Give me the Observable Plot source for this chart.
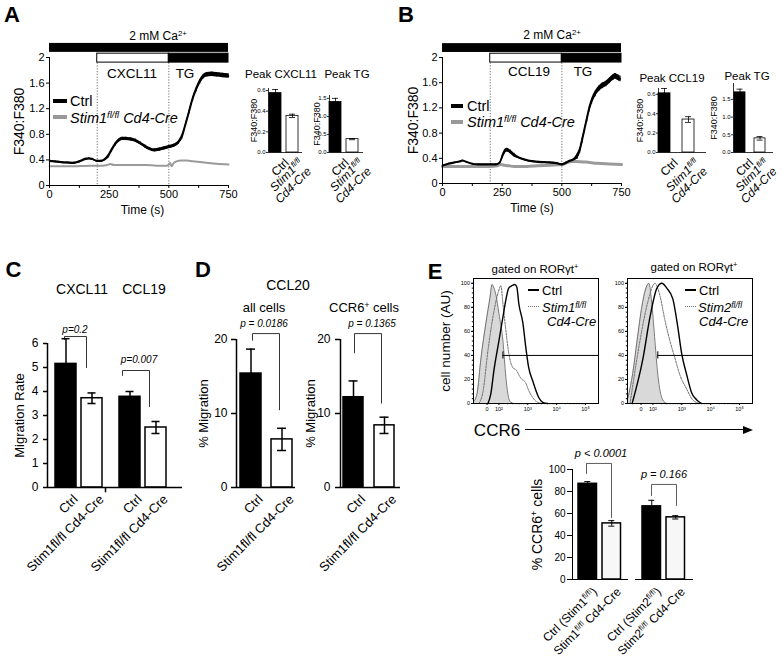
<!DOCTYPE html>
<html><head><meta charset="utf-8">
<script src="https://cdn.jsdelivr.net/npm/d3@7"></script>
<script src="https://cdn.jsdelivr.net/npm/@observablehq/plot@0.6"></script>
<style>
html,body{margin:0;padding:0;background:#fff;}
#fig{position:relative;width:782px;height:661px;overflow:hidden;background:#fff;font-family:"Liberation Sans",Arial,Helvetica,sans-serif;color:#000;}
#fig .t{position:absolute;white-space:nowrap;line-height:1;}
#fig sup{font-size:65%;vertical-align:0;position:relative;top:-0.5em;line-height:0;}
</style></head><body><div id="fig"></div>
<script>
// ================= DATA =================
// Panel A: Fura-2 ratio, CXCL11 then thapsigargin
const timeA = [0,25,50,75,100,125,150,165,180,200,215,230,245,260,275,290,305,320,340,360,380,400,420,440,460,480,500,520,540,555,570,585,600,615,630,645,660,680,700,725,750];
const ctrlA = [0.38,0.37,0.36,0.355,0.35,0.37,0.41,0.42,0.41,0.38,0.38,0.40,0.45,0.55,0.64,0.70,0.73,0.73,0.72,0.70,0.66,0.61,0.57,0.55,0.56,0.58,0.60,0.62,0.67,0.76,0.95,1.15,1.35,1.50,1.62,1.70,1.73,1.74,1.73,1.72,1.71];
const ctrlAErr = [0.015,0.015,0.015,0.015,0.015,0.015,0.015,0.015,0.015,0.015,0.015,0.015,0.025,0.025,0.025,0.025,0.025,0.025,0.025,0.025,0.025,0.025,0.025,0.025,0.025,0.025,0.025,0.025,0.025,0.035,0.035,0.035,0.035,0.035,0.035,0.035,0.035,0.035,0.035,0.035,0.035];
const stimTimeA = [0,50,100,150,200,225,240,255,270,300,350,400,450,490,500,505,512,520,535,550,575,600,650,700,750];
const stimA = [0.30,0.30,0.30,0.305,0.31,0.31,0.32,0.335,0.32,0.32,0.32,0.32,0.31,0.31,0.33,0.35,0.30,0.35,0.38,0.39,0.39,0.38,0.36,0.34,0.33];
// Panel B: CCL19 then thapsigargin
const timeB = [0,25,50,75,85,100,125,150,200,225,240,250,260,270,285,300,325,350,375,400,450,480,500,515,530,550,565,575,585,595,605,615,625,640,655,670,685,700,715,725,735,745];
const ctrlB = [0.28,0.31,0.33,0.35,0.36,0.34,0.31,0.30,0.30,0.30,0.33,0.42,0.50,0.53,0.50,0.45,0.40,0.37,0.35,0.34,0.33,0.32,0.30,0.32,0.35,0.38,0.43,0.52,0.68,0.85,1.02,1.18,1.30,1.42,1.50,1.55,1.58,1.63,1.68,1.70,1.68,1.66];
const ctrlBErr = [0.012,0.012,0.012,0.012,0.012,0.012,0.012,0.012,0.012,0.012,0.012,0.03,0.03,0.03,0.03,0.03,0.015,0.015,0.015,0.015,0.015,0.015,0.015,0.015,0.015,0.015,0.045,0.045,0.045,0.045,0.045,0.045,0.045,0.045,0.045,0.045,0.045,0.045,0.045,0.045,0.045,0.045];
const stimTimeB = [0,50,100,150,200,230,245,260,280,300,350,400,450,500,520,540,560,600,650,700,750];
const stimB = [0.27,0.27,0.27,0.27,0.27,0.28,0.30,0.29,0.28,0.27,0.27,0.28,0.29,0.30,0.33,0.35,0.35,0.34,0.32,0.31,0.30];
// Stimulus bars
const caBar = [{label: "2 mM Ca2+", start: 0, end: 750}];
const treatA = [{label: "CXCL11", start: 200, end: 500}, {label: "TG", start: 500, end: 750}];
const treatB = [{label: "CCL19", start: 200, end: 500}, {label: "TG", start: 500, end: 750}];
// Peak responses
const peakGenotypes = ["Ctrl", "Stim1^{fl/fl}\nCd4-Cre"];
const peakCXCL11 = [0.575, 0.355], peakCXCL11Err = [0.035, 0.016];
const peakTGA = [1.40, 0.37], peakTGAErr = [0.10, 0.015];
const peakCCL19 = [0.61, 0.34], peakCCL19Err = [0.05, 0.03];
const peakTGB = [1.70, 0.40], peakTGBErr = [0.09, 0.05];
// Panel C: migration rate
const migChemokines = ["CXCL11", "CCL19"];
const migLabels = ["Ctrl", "Stim1fl/fl Cd4-Cre", "Ctrl", "Stim1fl/fl Cd4-Cre"];
const migRate = [5.15, 3.72, 3.78, 2.50];
const migRateErr = [1.05, 0.22, 0.22, 0.25];
const migP = ["p=0.2", "p=0.007"];
// Panel D: CCL20 % migration
const ccl20Labels = ["Ctrl", "Stim1fl/fl Cd4-Cre"];
const ccl20All = [15.4, 6.5], ccl20AllErr = [3.3, 1.5];
const ccl20CCR6 = [12.2, 8.4], ccl20CCR6Err = [2.2, 1.1];
const ccl20P = ["p = 0.0186", "p = 0.1365"];
// Panel E: CCR6 histograms (x in log10 decades of fluorescence)
const histTicks = [1.59, 2, 3, 4, 5];
const histTickLabels = ["0", "10²", "10³", "10⁴", "10⁵"];
const h1IsoX = [1.14,1.24,1.38,1.55,1.69,1.76,1.83,1.90,2.0,2.14,2.24,2.31,2.41,2.52];
const h1IsoY = [2,8,38,67,88,99,96,90,75,52,22,8,1,0];
const h1KoX = [1.31,1.45,1.62,1.83,1.97,2.07,2.14,2.24,2.34,2.48,2.59,2.76,2.93,3.03,3.17,3.34,3.52];
const h1KoY = [0,10,44,77,92,98,83,61,42,30,28,21,17,11,5,1,0];
const h1CtrlX = [1.62,1.72,1.83,2.0,2.14,2.24,2.34,2.45,2.55,2.62,2.69,2.83,2.93,3.03,3.17,3.28,3.38,3.52,3.69];
const h1CtrlY = [0,8,28,52,72,86,96,98,99,97,83,67,47,30,19,11,5,1,0];
const h2IsoX = [1.14,1.30,1.45,1.62,1.79,1.86,1.97,2.07,2.17,2.34,2.48];
const h2IsoY = [5,25,52,81,98,100,81,52,24,3,0];
const h2KoX = [1.21,1.55,1.83,2.07,2.24,2.41,2.59,2.76,2.93,3.17,3.38,3.62];
const h2KoY = [0,52,85,100,90,70,52,38,24,12,3,0];
const h2CtrlX = [1.28,1.66,1.90,2.14,2.31,2.48,2.69,2.86,3.0,3.17,3.34,3.52,3.69];
const h2CtrlY = [0,38,72,96,100,96,87,64,41,24,9,3,0];
const gate1 = {from: 2.14, y: 40}, gate2 = {from: 2.17, y: 40};
// Panel E: % CCR6+ cells
const ccr6Labels = ["Ctrl (Stim1^{fl/fl})", "Stim1^{fl/fl} Cd4-Cre", "Ctrl (Stim2^{fl/fl})", "Stim2^{fl/fl} Cd4-Cre"];
const ccr6Pct = [87, 51, 66.5, 56.5];
const ccr6Err = [2, 2.5, 5.5, 1.5];
const ccr6P = ["p < 0.0001", "p = 0.166"];

// ================= HELPERS =================
const FONT = '"Liberation Sans", Arial, Helvetica, sans-serif';
const fig = document.getElementById("fig");
const SVGNS = "http://www.w3.org/2000/svg";
const baseStyle = {fontFamily: FONT, background: "transparent", overflow: "visible", color: "#000"};

function txt(html, x, y, o = {}) {
  const d = document.createElement("div");
  d.className = "t";
  d.innerHTML = html;
  const ax = o.anchor === "start" ? "0%" : o.anchor === "end" ? "-100%" : "-50%";
  d.style.left = x + "px"; d.style.top = y + "px";
  d.style.fontSize = (o.size || 12) + "px";
  if (o.bold) d.style.fontWeight = "bold";
  if (o.italic) d.style.fontStyle = "italic";
  d.style.transform = `translate(${ax},-50%)`;
  fig.appendChild(d);
}
function hline(x1, x2, y, w, color, style = "solid") {
  const d = document.createElement("div");
  d.style.cssText = `position:absolute;left:${x1}px;top:${y - w / 2}px;width:${x2 - x1}px;height:0;border-top:${w}px ${style} ${color};`;
  fig.appendChild(d);
}
function rich(root) {
  root.querySelectorAll("text, tspan").forEach(el => {
    if (el.querySelector("tspan")) return;
    const s = el.textContent;
    if (!s.includes("^{")) return;
    el.textContent = "";
    const re = /\^\{([^}]*)\}/g; let last = 0, m;
    while ((m = re.exec(s))) {
      if (m.index > last) el.appendChild(document.createTextNode(s.slice(last, m.index)));
      const t = document.createElementNS(SVGNS, "tspan");
      t.setAttribute("baseline-shift", "super");
      t.setAttribute("font-size", "65%");
      t.textContent = m[1];
      el.appendChild(t);
      last = re.lastIndex;
    }
    if (last < s.length) el.appendChild(document.createTextNode(s.slice(last)));
  });
}
function place(svg, left, top) {
  svg.style.position = "absolute";
  svg.style.left = left + "px";
  svg.style.top = top + "px";
  fig.appendChild(svg);
  rich(svg);
}
// rotated, centred axis title at the left of the frame
const yTitle = (label, dx, fontSize) => Plot.text([label], {frameAnchor: "left", textAnchor: "middle", lineAnchor: "middle", rotate: -90, dx, fontSize});

// ---------- Calcium traces ----------
function trace(c) {
  const ctrl = c.ctrlT.map((t, i) => ({t, v: c.ctrlV[i], e: c.ctrlE[i]}));
  const ko = c.koT.map((t, i) => ({t, v: c.koV[i]}));
  return Plot.plot({
    width: c.width, height: c.height,
    marginTop: c.mt, marginBottom: c.mb, marginLeft: c.ml, marginRight: c.mr,
    style: baseStyle,
    x: {domain: [0, 750]}, y: {domain: [0, 2]}, color: {type: "identity"},
    marks: [
      Plot.ruleX(c.treat, {x: "start", stroke: "#333", strokeWidth: 0.7, strokeDasharray: "1.2,1.6"}),
      Plot.line(ko, {x: "t", y: "v", stroke: "#9a9a9a", strokeWidth: c.koWidth, curve: "monotone-x"}),
      Plot.areaY(ctrl, {x: "t", y1: d => d.v - d.e, y2: d => d.v + d.e, fill: "#000", curve: "monotone-x"}),
      Plot.line(ctrl, {x: "t", y: "v", stroke: "#000", strokeWidth: 1.6, curve: "monotone-x"}),
      Plot.ruleX(ctrl, {x: "t", y1: d => d.v - d.e, y2: d => d.v + d.e, stroke: "#000", strokeWidth: 0.8}),
      Plot.rect(caBar, {x1: "start", x2: "end", y1: 2.08, y2: 2.22, fill: "#000"}),
      Plot.rect(c.treat, {x1: "start", x2: "end", y1: 1.92, y2: 2.06, fill: (d, i) => i === 0 ? "#fff" : "#000", stroke: "#000", strokeWidth: 1}),
      Plot.ruleX([0], {stroke: "#000"}),
      Plot.ruleY([0], {stroke: "#000"}),
      Plot.axisX({ticks: d3.range(0, 751, 125), tickFormat: d => d % 250 === 0 ? String(d) : "", tickSize: 3, tickPadding: 2, fontSize: 11, label: null}),
      Plot.axisY({ticks: [0, 0.4, 0.8, 1.2, 1.6, 2], tickFormat: d => String(+d.toFixed(1)), tickSize: 3, tickPadding: 2, fontSize: 11, label: null}),
      yTitle("F340:F380", c.ylabDx, 14),
      Plot.text(["Time (s)"], {frameAnchor: "bottom", textAnchor: "middle", lineAnchor: "middle", dx: c.xlabDx, dy: 25, fontSize: 12})
    ]
  });
}

// ---------- Bar charts (x in pixel-like units) ----------
function barChart(c) {
  const data = c.vals.map((v, k) => ({k, v, e: c.errs[k], label: c.labels[k], g: Math.floor(k / 2), m: k % 2}));
  const x1 = d => c.g0 + d.g * (c.gStep || 0) + d.m * c.mStep;
  const cx = d => x1(d) + c.bw / 2;
  const labOpts = {x: cx, text: "label", frameAnchor: "bottom", rotate: -45, textAnchor: "end", lineAnchor: "top", dy: c.labDy, fontSize: c.labSize};
  const marks = [
    Plot.rect(data, {x1, x2: d => x1(d) + c.bw, y1: 0, y2: "v", fill: d => d.m === 0 ? "#000" : (c.white || "#fff"), stroke: "#000", strokeWidth: c.sw}),
    Plot.ruleX(data, {x: cx, y1: d => d.v - d.e, y2: d => d.v + d.e, stroke: "#000", strokeWidth: c.ew}),
    Plot.ruleY(data, {y: d => d.v + d.e, x1: d => cx(d) - c.cap, x2: d => cx(d) + c.cap, stroke: "#000", strokeWidth: c.ew}),
    Plot.ruleY(data, {filter: d => d.m === 1, y: d => d.v - d.e, x1: d => cx(d) - c.cap, x2: d => cx(d) + c.cap, stroke: "#000", strokeWidth: c.ew}),
    Plot.ruleX([0], {stroke: "#000", strokeWidth: c.aw}),
    Plot.ruleY(c.baselines, {y: 0, x1: d => d[0], x2: d => d[1], stroke: "#000", strokeWidth: c.aw}),
    Plot.axisY({ticks: c.ticks, tickFormat: c.fmt, tickSize: c.tickSize, tickPadding: c.tickPad, fontSize: c.tickFont, strokeWidth: c.aw, label: null}),
    yTitle(c.ylabel, c.ylabDx, c.ylabSize),
    Plot.text(data, {...labOpts, filter: d => d.m === 0, dx: c.labDx}),
    Plot.text(data, {...labOpts, filter: d => d.m === 1, dx: c.labDx2 ?? c.labDx, fontStyle: c.koStyle || "normal"})
  ];
  for (const b of c.brackets || []) marks.push(Plot.line([[b.xl, b.yl], [b.xl, b.top], [b.xr, b.top], [b.xr, b.yr]], {stroke: c.bracketColor || "#000", strokeWidth: 0.8}));
  for (const s of c.seps || []) marks.push(Plot.ruleX([s], {y1: 0, y2: -c.sepLen, stroke: "#000", strokeWidth: c.aw}));
  return Plot.plot({
    width: c.width, height: c.height, marginTop: c.mt, marginBottom: c.mb, marginLeft: c.ml, marginRight: c.mr,
    style: baseStyle, color: {type: "identity"},
    x: {domain: [0, c.xmax], axis: null}, y: {domain: [0, c.ymax]},
    marks
  });
}

// ---------- Flow histograms ----------
const HIST_X = [1.12, 5.45];
function hist(c) {
  const pts = (xs, ys) => xs.map((x, i) => ({x, y: ys[i]}));
  const iso = pts(c.isoX, c.isoY), ko = pts(c.koX, c.koY), ctrl = pts(c.ctrlX, c.ctrlY);
  const minor = [];
  for (let n = 2; n < 5; n++) for (let k = 2; k < 10; k++) minor.push(n + Math.log10(k));
  const marks = [
    Plot.areaY(iso, {x: "x", y: "y", fill: "#d9d9d9", curve: "monotone-x"}),
    Plot.line(iso, {x: "x", y: "y", stroke: "#555", strokeWidth: 0.8, curve: "monotone-x"}),
    Plot.line(ko, {x: "x", y: "y", stroke: "#6a6a6a", strokeWidth: 1, strokeDasharray: "1.6,1.2", curve: "monotone-x"}),
    Plot.line(ctrl, {x: "x", y: "y", stroke: "#000", strokeWidth: 1.4, curve: "monotone-x"}),
    Plot.ruleY([c.gate], {y: "y", x1: "from", x2: HIST_X[1], stroke: "#000", strokeWidth: 1}),
    Plot.ruleX([c.gate], {x: "from", y1: d => d.y - 3, y2: d => d.y + 3, stroke: "#000", strokeWidth: 1}),
    Plot.frame({stroke: "#000", strokeWidth: 1}),
    Plot.axisY({ticks: d3.range(0, 101, 20), tickSize: 2, tickPadding: 1.5, fontSize: 5.5, label: null}),
    Plot.axisY({ticks: d3.range(0, 104, 4), tickSize: 1.2, tickFormat: () => "", label: null}),
    Plot.axisX({ticks: histTicks, tickFormat: d => histTickLabels[histTicks.indexOf(d)], tickSize: 2, tickPadding: 2, fontSize: 5.5, label: null}),
    Plot.axisX({ticks: minor, tickSize: 1.2, tickFormat: () => "", label: null})
  ];
  if (c.ylabel) marks.push(yTitle(c.ylabel, -28, 13.5));
  return Plot.plot({
    width: c.width, height: c.height, marginTop: c.mt, marginBottom: c.mb, marginLeft: c.ml, marginRight: c.mr,
    style: baseStyle, x: {domain: HIST_X}, y: {domain: [0, 104]}, marks
  });
}

// ================= PANELS =================
place(trace({width: 240, height: 225, ml: 49, mr: 12, mt: 57, mb: 40, ctrlT: timeA, ctrlV: ctrlA, ctrlE: ctrlAErr, koT: stimTimeA, koV: stimA, koWidth: 2, treat: treatA, ylabDx: -30, xlabDx: 3.5}), 0, 0);
place(trace({width: 240, height: 225, ml: 48, mr: 13, mt: 57, mb: 42, ctrlT: timeB, ctrlV: ctrlB, ctrlE: ctrlBErr, koT: stimTimeB, koV: stimB, koWidth: 3, treat: treatB, ylabDx: -29, xlabDx: 0}), 394, 0);

const smallCommon = {labels: peakGenotypes, fmt: d => d.toFixed(1), tickSize: 2, tickPad: 1, tickFont: 6, ylabel: "F340:F380", ylabSize: 9, labDx: 8, labDx2: 5, labDy: 5, labSize: 12, koStyle: "italic", cap: 3, sw: 0.8, ew: 0.8, aw: 0.8};
place(barChart({...smallCommon, width: 78, height: 140, ml: 36, mr: 8, mt: 8, mb: 68, xmax: 34, ymax: 0.62, g0: 1, mStep: 17, bw: 12, vals: peakCXCL11, errs: peakCXCL11Err, ticks: [0, 0.2, 0.4, 0.6], ylabDx: -14, baselines: [[0, 34]]}), 232, 80);
place(barChart({...smallCommon, width: 65, height: 140, ml: 24, mr: 7, mt: 15, mb: 68, xmax: 34, ymax: 1.58, g0: 0, mStep: 17, bw: 12, vals: peakTGA, errs: peakTGAErr, ticks: [0, 0.5, 1, 1.5], ylabDx: -12, baselines: [[0, 34]]}), 305, 80);
place(barChart({...smallCommon, width: 90, height: 140, ml: 33, mr: 9, mt: 8, mb: 68, xmax: 48, ymax: 0.66, g0: 0, mStep: 24, bw: 12, vals: peakCCL19, errs: peakCCL19Err, ticks: [0, 0.2, 0.4, 0.6], ylabDx: -18, baselines: [[0, 48]]}), 625, 80);
place(barChart({...smallCommon, width: 79, height: 145, ml: 30, mr: 9, mt: 8, mb: 68, xmax: 40, ymax: 1.95, g0: 1, mStep: 20, bw: 11, labDx2: 3, vals: peakTGB, errs: peakTGBErr, ticks: [0, 0.5, 1, 1.5], ylabDx: -19, baselines: [[0, 40]]}), 703, 75);

// C
place(barChart({width: 200, height: 341, ml: 47, mr: 18, mt: 23, mb: 174, xmax: 135, ymax: 6, g0: 8, gStep: 64, mStep: 26, bw: 21,
  vals: migRate, errs: migRateErr, labels: migLabels, ticks: [0, 1, 2, 3, 4, 5, 6], fmt: d => String(d), tickSize: 4, tickPad: 5, tickFont: 12,
  ylabel: "Migration Rate", ylabDx: -28, ylabSize: 13, labDx: 6, labDy: 6, labSize: 13, cap: 4, sw: 1.5, ew: 1.5, aw: 1.5,
  baselines: [[0, 135]], seps: [58], sepLen: 0.22,
  brackets: [{xl: 17, xr: 39, top: 6.29, yl: 6.17, yr: 5.0}, {xl: 75, xr: 102, top: 4.875, yl: 4.67, yr: 3.375}]}), 0, 320);
// D
const dCommon = {width: 110, height: 341, mr: 10, mt: 19, mb: 174, ymax: 20, mStep: 31, labels: ccl20Labels, ticks: [0, 10, 20], fmt: d => String(d), tickSize: 5, tickFont: 12,
  ylabel: "% Migration", ylabSize: 13, labDx: 6, labDy: 6, labSize: 13, cap: 4.5, sw: 1.5, ew: 1.5, aw: 1.5};
place(barChart({...dCommon, ml: 41, xmax: 59, g0: 4, bw: 21, vals: ccl20All, errs: ccl20AllErr, tickPad: 4, ylabDx: -33, baselines: [[0, 59]],
  brackets: [{xl: 16, xr: 43, top: 20.8, yl: 19.9, yr: 10.5}]}), 195, 320);
place(barChart({...dCommon, ml: 40, xmax: 60, g0: 3, bw: 20, vals: ccl20CCR6, errs: ccl20CCR6Err, tickPad: 5, ylabDx: -30, baselines: [[0, 60]],
  brackets: [{xl: 14, xr: 41, top: 20.8, yl: 18.2, yr: 11.4}]}), 300, 320);
// E histograms
place(hist({width: 165, height: 165, ml: 33, mr: 7, mt: 18, mb: 22, isoX: h1IsoX, isoY: h1IsoY, koX: h1KoX, koY: h1KoY, ctrlX: h1CtrlX, ctrlY: h1CtrlY, gate: gate1, ylabel: "cell number (AU)"}), 440, 260);
place(hist({width: 160, height: 165, ml: 27, mr: 8, mt: 18, mb: 22, isoX: h2IsoX, isoY: h2IsoY, koX: h2KoX, koY: h2KoY, ctrlX: h2CtrlX, ctrlY: h2CtrlY, gate: gate2}), 600, 260);
// E bars
place(barChart({width: 200, height: 221, ml: 52, mr: 27, mt: 29, mb: 82, xmax: 121, ymax: 100, g0: 6, gStep: 64, mStep: 24, bw: 18.5,
  vals: ccr6Pct, errs: ccr6Err, labels: ccr6Labels, ticks: [0, 20, 40, 60, 80, 100], fmt: d => String(d), tickSize: 5, tickPad: 2, tickFont: 10,
  ylabel: "% CCR6^{+} cells", ylabDx: -35, ylabSize: 14, labDx: 4, labDy: 7, labSize: 12, cap: 3, sw: 1.5, ew: 1, aw: 1, white: "#f7f7f7",
  baselines: [[0, 56], [63, 121]], bracketColor: "#333",
  brackets: [{xl: 14, xr: 39, top: 105.5, yl: 96.4, yr: 56.4}, {xl: 79, xr: 104, top: 86.4, yl: 76.4, yr: 67.3}]}), 520, 440);

// ================= ANNOTATIONS =================
txt("A", 12, 15, {size: 22, bold: true});
txt("B", 406, 15, {size: 22, bold: true});
txt("C", 13.5, 270, {size: 22, bold: true});
txt("D", 203, 270, {size: 22, bold: true});
txt("E", 435, 272, {size: 22, bold: true});

txt("2 mM Ca<sup>2+</sup>", 158, 36, {size: 12});
txt("2 mM Ca<sup>2+</sup>", 552, 35, {size: 12});
txt(treatA[0].label, 132, 74, {size: 13.5});
txt(treatA[1].label, 185, 74, {size: 13.5});
txt(treatB[0].label, 529, 72, {size: 13.5});
txt(treatB[1].label, 583, 72, {size: 13.5});

hline(53, 67, 101, 4, "#000"); txt("Ctrl", 70, 101, {anchor: "start", size: 14.5});
hline(53, 67, 117, 4, "#999"); txt("Stim1<sup>fl/fl</sup> Cd4-Cre", 70, 118, {anchor: "start", size: 14.5, italic: true});
hline(451, 463, 106, 4, "#000"); txt("Ctrl", 467, 106, {anchor: "start", size: 14.5});
hline(451, 463, 122, 4, "#999"); txt("Stim1<sup>fl/fl</sup> Cd4-Cre", 467, 122, {anchor: "start", size: 14.5, italic: true});

txt("Peak CXCL11", 281, 75, {size: 11.5});
txt("Peak TG", 347, 75, {size: 11.5});
txt("Peak CCL19", 672, 79, {size: 11.5});
txt("Peak TG", 747, 77, {size: 11.5});

txt(migChemokines[0], 82, 289, {size: 14});
txt(migChemokines[1], 144, 289, {size: 14});
txt(migP[0], 75, 330, {size: 10, italic: true});
txt(migP[1], 139, 360, {size: 10, italic: true});

txt("CCL20", 288, 285, {size: 14});
txt("all cells", 264, 307, {size: 13});
txt("CCR6<sup>+</sup> cells", 364, 307, {size: 13});
txt(ccl20P[0], 264, 324, {size: 10, italic: true});
txt(ccl20P[1], 372, 324, {size: 10, italic: true});

txt("gated on RORγt<sup>+</sup>", 535, 270, {size: 11.5});
txt("gated on RORγt<sup>+</sup>", 694, 268, {size: 11.5});
hline(528, 539, 290, 2.5, "#000"); txt("Ctrl", 542, 290, {anchor: "start", size: 13});
hline(528, 539, 307, 1.5, "#777", "dotted"); txt("Stim1<sup>fl/fl</sup>", 542, 307, {anchor: "start", size: 13, italic: true});
txt("Cd4-Cre", 547, 321, {anchor: "start", size: 13, italic: true});
hline(685, 696, 290, 2.5, "#000"); txt("Ctrl", 699, 290, {anchor: "start", size: 13});
hline(685, 696, 307, 1.5, "#777", "dotted"); txt("Stim2<sup>fl/fl</sup>", 698, 307, {anchor: "start", size: 13, italic: true});
txt("Cd4-Cre", 699, 321, {anchor: "start", size: 13, italic: true});

txt("CCR6", 497, 430, {size: 17});
hline(525, 745, 430, 1.5, "#000");
(() => { const a = document.createElement("div"); a.style.cssText = "position:absolute;left:743px;top:425.5px;width:0;height:0;border-left:10px solid #000;border-top:4.5px solid transparent;border-bottom:4.5px solid transparent;"; fig.appendChild(a); })();

txt(ccr6P[0], 601, 453, {size: 11, italic: true});
txt(ccr6P[1], 664, 474, {size: 11, italic: true});
</script></body></html>
